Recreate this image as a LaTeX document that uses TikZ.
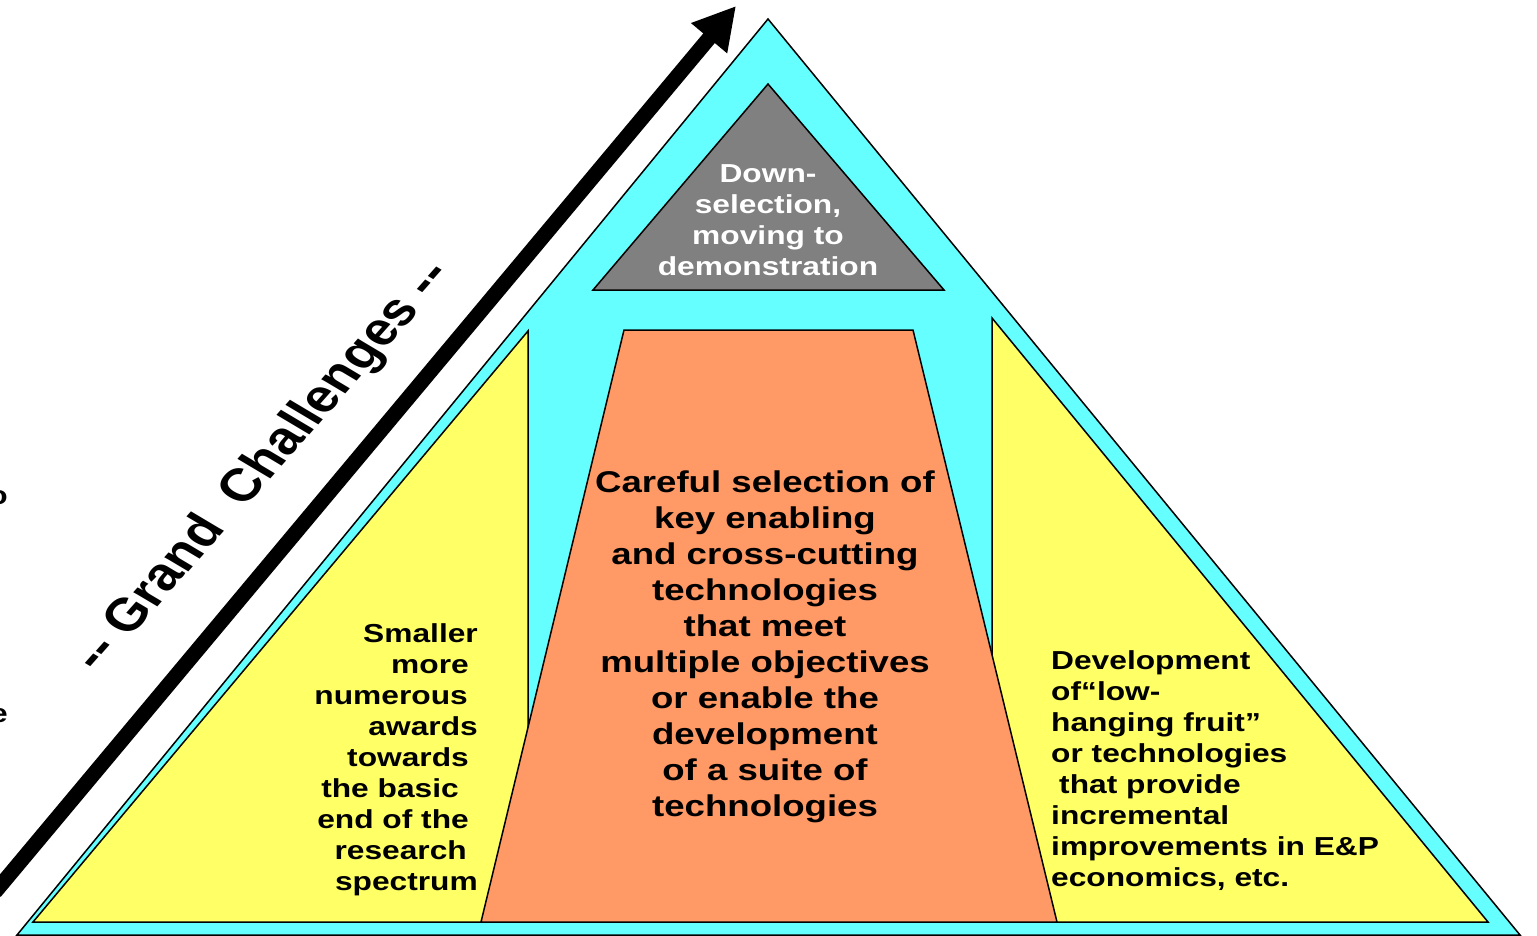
\documentclass[tikz,border=0pt]{standalone}
\usepackage{fontspec}
\setmainfont{Liberation Sans}
\newfontfamily\widebold[FakeStretch=1.22]{Liberation Sans}
\usetikzlibrary{arrows.meta}
\definecolor{cyanF}{HTML}{66FFFF}
\definecolor{yellowF}{HTML}{FFFF66}
\definecolor{orangeF}{HTML}{FF9966}
\definecolor{grayF}{HTML}{808080}
\newcommand{\tsp}[1]{\rule{#1}{0pt}}
\tikzset{
  part/.style={draw=black, line width=1.5pt, line join=miter},
  lbl/.style={inner sep=0pt, font=\widebold\bfseries},
}
\begin{document}
\begin{tikzpicture}[x=1pt,y=-1pt]
\useasboundingbox (0,0) rectangle (1537,936);
\clip (0,0) rectangle (1537,936);
\fill[white] (0,0) rectangle (1537,936);
% outer cyan pyramid
\draw[part, fill=cyanF] (768,19) -- (1520,935) -- (17,935) -- cycle;
% grey apex
\draw[part, fill=grayF] (768,84) -- (944,290) -- (593,290) -- cycle;
% left yellow
\draw[part, fill=yellowF] (528,331) -- (528,922) -- (33,922) -- cycle;
% right yellow
\draw[part, fill=yellowF] (992,318) -- (1488,922) -- (992,922) -- cycle;
% orange trapezoid
\draw[part, fill=orangeF] (624,330) -- (913,330) -- (1057,922) -- (481,922) -- cycle;
% arrow
\coordinate (arrS) at (-5,892);
\coordinate (arrE) at (736,6);
\draw[line width=15pt, -{Triangle[length=42pt,width=44pt]}] (arrS) -- (arrE);
% texts
\node[lbl, text=white, align=center, font=\widebold\bfseries\fontsize{26}{31}\selectfont] (apex) at (768,220)
  {Down-\\selection,\\moving to\\demonstration};
\node[lbl, align=center, font=\widebold\bfseries\fontsize{30}{36}\selectfont] (mid) at (765,647)
  {Careful selection of\\key enabling\\and cross-cutting\\technologies\\that meet\\multiple objectives\\or enable the\\development\\of a suite of\\technologies};
\node[lbl, align=right, anchor=east, font=\widebold\bfseries\fontsize{26}{31}\selectfont] (left) at (478,760)
  {Smaller\\more\tsp{9pt}\\numerous\tsp{10pt}\\awards\\towards\tsp{9pt}\\the basic\tsp{19pt}\\end of the\tsp{9pt}\\research\tsp{11pt}\\spectrum};
\node[lbl, align=left, anchor=west, font=\widebold\bfseries\fontsize{26}{31}\selectfont] (right) at (1051,771)
  {Development\\of“low-\\hanging fruit”\\or technologies\\\tsp{8pt}that provide\\incremental\\improvements in E\&P\\economics, etc.};
\node[lbl, anchor=east, font=\widebold\bfseries\fontsize{26}{31}\selectfont] (frago) at (8,498) {o};
\node[lbl, anchor=east, font=\widebold\bfseries\fontsize{26}{31}\selectfont] (frage) at (8,716) {e};
\begin{scope}[xscale=1.22]
\node[inner sep=0pt, rotate=54, transform shape, font=\bfseries\fontsize{46}{50}\selectfont] (gc) at (216,467)
  {-{}- Grand\ \ Challenges\ -{}-};
\end{scope}
\end{tikzpicture}
\end{document}
